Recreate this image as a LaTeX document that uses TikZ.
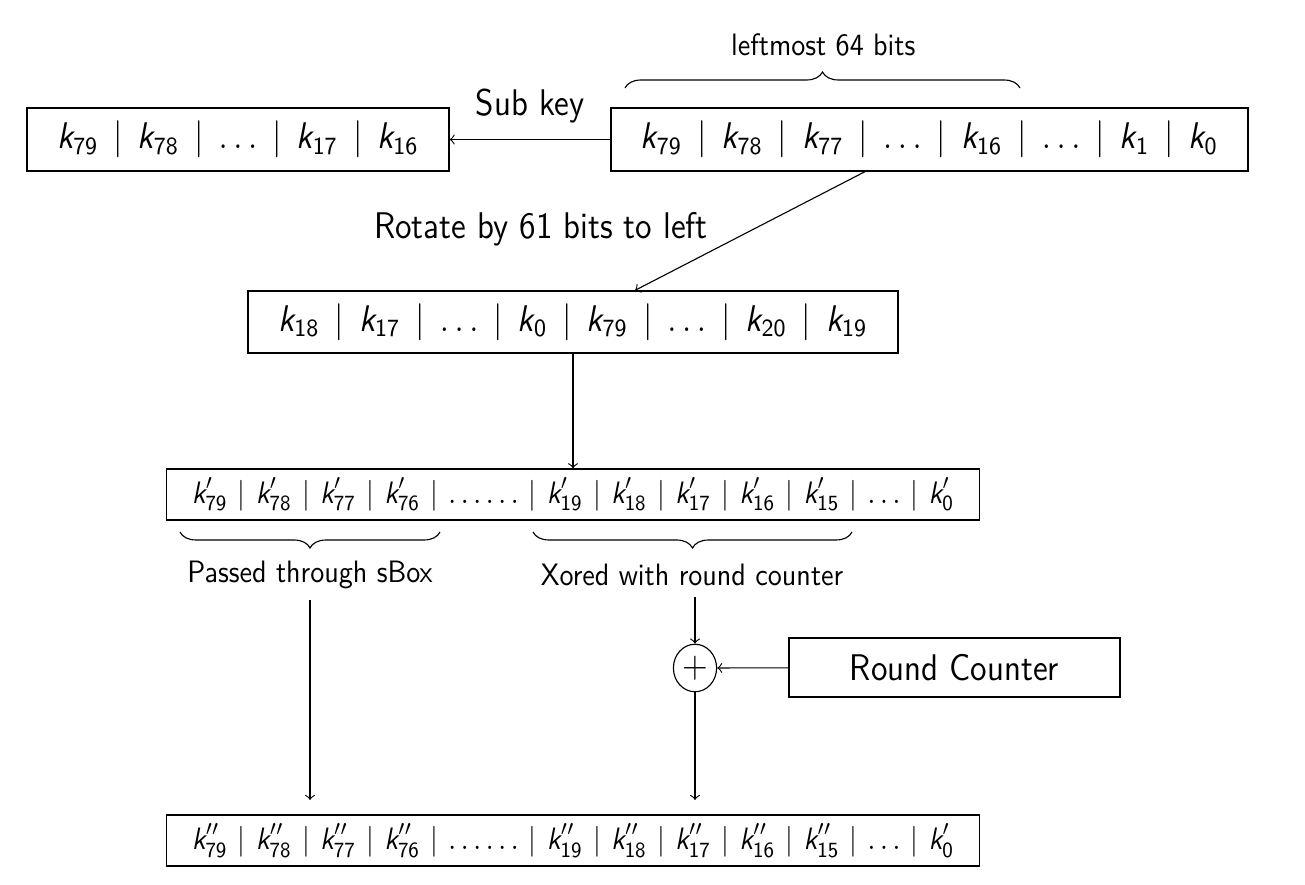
\documentclass[tikz,border=0pt]{standalone}
\usepackage{amsmath}
\usetikzlibrary{arrows}
\usetikzlibrary{calc,positioning}
\usetikzlibrary{decorations.pathreplacing}

\newcommand{\kb}[2][]{\text{\itshape k}#1_{\text{#2}}}
\newcommand{\vsep}[1][3mu]{\mskip#1\mid\mskip#1}

\tikzset{
  keybox/.style={rectangle,draw,inner sep=2pt,yscale=1.1,font=\sffamily\large},
  bitbox/.style={rectangle,draw,inner sep=2pt,yscale=1.1,font=\sffamily},
  brc/.style={decorate,decoration={brace,amplitude=0.2cm}}
}

\begin{document}
\begin{tikzpicture}
\useasboundingbox (0,0) rectangle (16.3125,-11.0625);
			\begin{scope}
				\node[keybox,minimum width=5.275cm,minimum height=0.716cm] (sub) at (2.975,-1.744) {$\kb{79} \vsep \kb{78} \vsep \ldots \vsep \kb{17} \vsep \kb{16}$};
				\node[keybox,minimum width=7.9625cm,minimum height=0.716cm] (key) at (11.619,-1.744) {$\kb{79} \vsep \kb{78} \vsep \kb{77} \vsep \ldots \vsep \kb{16} \vsep \ldots \vsep \kb{1} \vsep \kb{0}$};
				\node[keybox,minimum width=8.125cm,minimum height=0.705cm] (rot) at (7.1625,-4.025) {$\kb{18} \vsep \kb{17} \vsep \ldots \vsep \kb{0} \vsep \kb{79} \vsep \ldots \vsep \kb{20} \vsep \kb{19}$};
				\node[bitbox,minimum width=10.1625cm,minimum height=0.58cm] (mix) at (7.1625,-6.181) {$\kb[']{79} \vsep[1.5mu] \kb[']{78} \vsep[1.5mu] \kb[']{77} \vsep[1.5mu] \kb[']{76} \vsep[1.5mu] \ldots\ldots \vsep[1.5mu] \kb[']{19} \vsep[1.5mu] \kb[']{18} \vsep[1.5mu] \kb[']{17} \vsep[1.5mu] \kb[']{16} \vsep[1.5mu] \kb[']{15} \vsep[1.5mu] \ldots \vsep[1.5mu] \kb[']{0}$};
				\node[bitbox,minimum width=10.1625cm,minimum height=0.58cm] (out) at (7.1625,-10.506) {$\kb['']{79} \vsep[1.5mu] \kb['']{78} \vsep[1.5mu] \kb['']{77} \vsep[1.5mu] \kb['']{76} \vsep[1.5mu] \ldots\ldots \vsep[1.5mu] \kb['']{19} \vsep[1.5mu] \kb['']{18} \vsep[1.5mu] \kb['']{17} \vsep[1.5mu] \kb['']{16} \vsep[1.5mu] \kb['']{15} \vsep[1.5mu] \ldots \vsep[1.5mu] \kb[']{0}$};
				\node[circle,draw,inner sep=0pt,minimum size=0.54cm,yscale=1.1,font=\large] (xor) at (8.6875,-8.35) {$+$};
				\node[keybox,minimum width=4.1375cm,minimum height=0.67cm] (counter) at (11.931,-8.344) {Round Counter};
			\end{scope}

			\begin{scope}[every node/.style={font=\sffamily,yscale=1.1}]
				\draw[brc] (7.8125,-1.1) -- (12.75,-1.1);
				\node (lefttext) at (10.29,-0.5625) {leftmost 64 bits};
				\draw[brc] (5.5,-6.65) -- (2.25,-6.65);
				\draw[brc] (10.65,-6.65) -- (6.6625,-6.65);
				\node (sboxtext) at (3.875,-7.19) {Passed through sBox};
				\node (xortext) at (8.65,-7.19) {Xored with round counter};
				\node[font=\sffamily\large] (rottext) at (6.7625,-2.8625) {Rotate by 61 bits to left};
			\end{scope}

			\coordinate (sboxend) at (3.875,-10);
			\coordinate (xorend) at (8.6875,-10);

			\begin{scope}[every edge/.style={draw}]
				\path[->] (key) edge node[above=2pt,font=\sffamily\large,yscale=1.1] (subtext) {Sub key} (sub);
				\path[->] ([xshift=-0.806cm]key.south) edge ([xshift=0.775cm]rot.north);
				\path[->] (rot.south) edge (mix.north);
				\path[->] (sboxtext.south) edge (sboxend);
				\path[->] (xortext.south -| xor.north) edge (xor.north);
				\path[->] (counter) edge (xor);
				\path[->] (xor.south) edge (xorend);
			\end{scope}
		\end{tikzpicture}
\end{document}
